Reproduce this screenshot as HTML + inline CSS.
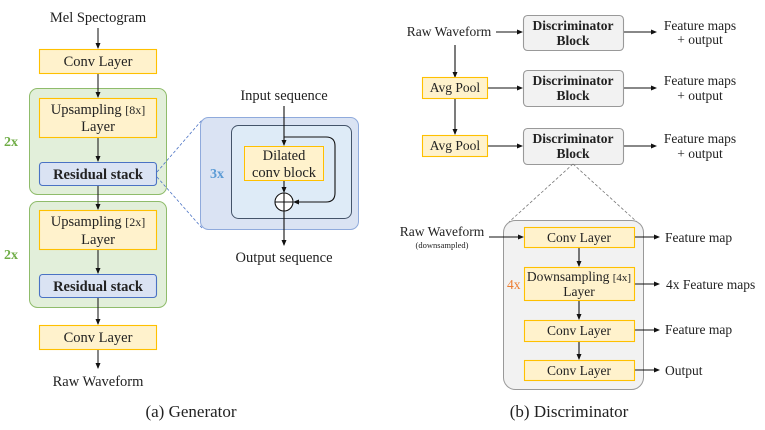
<!DOCTYPE html>
<html><head><meta charset="utf-8"><style>
html,body{margin:0;padding:0;background:#fff;}
svg{display:block;}
text{font-family:"Liberation Serif",serif;fill:#222;}
</style></head><body>
<svg width="765" height="430" viewBox="0 0 765 430" xmlns="http://www.w3.org/2000/svg">
<defs>
<marker id="a" markerWidth="6" markerHeight="6" refX="5" refY="3" orient="auto" markerUnits="userSpaceOnUse"><path d="M0,0.5 L6,3 L0,5.5 Z" fill="#111"/></marker>
</defs>
<g stroke="#222" stroke-width="1.1" fill="none">
<line x1="98" y1="28" x2="98" y2="48" marker-end="url(#a)"/>
<line x1="98" y1="349" x2="98" y2="368" marker-end="url(#a)"/>
</g>
<rect x="29.5" y="88.5" width="137" height="106" rx="8" fill="#e2efda" stroke="#8fbc6b"/>
<rect x="29.5" y="201.5" width="137" height="106" rx="8" fill="#e2efda" stroke="#8fbc6b"/>
<g stroke="#222" stroke-width="1.1"><line x1="98" y1="185" x2="98" y2="209" marker-end="url(#a)"/><line x1="98" y1="73" x2="98" y2="97" marker-end="url(#a)"/><line x1="98" y1="137" x2="98" y2="161" marker-end="url(#a)"/><line x1="98" y1="249" x2="98" y2="273" marker-end="url(#a)"/><line x1="98" y1="297" x2="98" y2="324" marker-end="url(#a)"/></g>
<g fill="#fff2cc" stroke="#ffc000" stroke-width="1.1">
<rect x="39.5" y="49.5" width="117" height="24"/>
<rect x="39.5" y="98.5" width="117" height="39"/>
<rect x="39.5" y="210.5" width="117" height="39"/>
<rect x="39.5" y="325.5" width="117" height="24"/>
</g>
<g fill="#dae3f3" stroke="#4a72c4" stroke-width="1.1">
<rect x="39.5" y="162.5" width="117" height="23" rx="3"/>
<rect x="39.5" y="274.5" width="117" height="23" rx="3"/>
</g>
<g font-size="14.5" text-anchor="middle">
<text x="98" y="22">Mel Spectogram</text>
<text x="98" y="66">Conv Layer</text>
<text x="98" y="114">Upsampling <tspan font-size="12">[8x]</tspan></text>
<text x="98" y="131">Layer</text>
<text x="98" y="179" font-weight="bold">Residual stack</text>
<text x="98" y="226">Upsampling <tspan font-size="12">[2x]</tspan></text>
<text x="98" y="244">Layer</text>
<text x="98" y="291" font-weight="bold">Residual stack</text>
<text x="98" y="342">Conv Layer</text>
<text x="98" y="386">Raw Waveform</text>
<text x="284" y="100">Input sequence</text>
<text x="284" y="262">Output sequence</text>
</g>
<text x="4" y="146" font-size="14" font-weight="bold" style="fill:#70ad47">2x</text>
<text x="4" y="259" font-size="14" font-weight="bold" style="fill:#70ad47">2x</text>
<text x="191" y="417" font-size="17" text-anchor="middle">(a) Generator</text>
<g stroke="#4a72c4" stroke-dasharray="3,2" stroke-width="0.8"><line x1="157" y1="172" x2="202" y2="120"/><line x1="157" y1="177" x2="202" y2="228"/></g>
<rect x="200.5" y="117.5" width="158" height="112" rx="8" fill="#dae3f3" stroke="#8faadc"/>
<rect x="231.5" y="125.5" width="120" height="93" rx="7" fill="#deebf7" stroke="#44546a"/>
<g stroke="#111" stroke-width="1.1" fill="none">
<line x1="284" y1="106" x2="284" y2="145" marker-end="url(#a)"/>
<path d="M284,137 H326 Q335,137 335,146 V193 Q335,202 326,202 H294" marker-end="url(#a)"/>
</g>
<rect x="244.5" y="146.5" width="79" height="34" fill="#fff2cc" stroke="#ffc000"/>
<text x="284" y="160" font-size="14.5" text-anchor="middle">Dilated</text>
<text x="284" y="177" font-size="14.5" text-anchor="middle">conv block</text>
<text x="210" y="178" font-size="14" font-weight="bold" style="fill:#5b9bd5">3x</text>
<g stroke="#111" stroke-width="1.1" fill="none">
<line x1="284" y1="181" x2="284" y2="192" marker-end="url(#a)"/>
<circle cx="284" cy="202" r="9" fill="#fff"/>
<line x1="275" y1="202" x2="293" y2="202"/><line x1="284" y1="193" x2="284" y2="211"/>
<line x1="284" y1="211" x2="284" y2="245" marker-end="url(#a)"/>
</g>
<g stroke="#111" stroke-width="1.1" fill="none">
<line x1="496" y1="32" x2="522" y2="32" marker-end="url(#a)"/>
<line x1="455" y1="45" x2="455" y2="77" marker-end="url(#a)"/>
<line x1="455" y1="98" x2="455" y2="134" marker-end="url(#a)"/>
<line x1="487" y1="88" x2="522" y2="88" marker-end="url(#a)"/>
<line x1="487" y1="146" x2="522" y2="146" marker-end="url(#a)"/>
<line x1="624" y1="32" x2="656" y2="32" marker-end="url(#a)"/>
<line x1="624" y1="88" x2="656" y2="88" marker-end="url(#a)"/>
<line x1="624" y1="146" x2="656" y2="146" marker-end="url(#a)"/>
</g>
<g fill="#f2f2f2" stroke="#999" stroke-width="1.1">
<rect x="523.5" y="15.5" width="100" height="35" rx="4"/>
<rect x="523.5" y="70.5" width="100" height="36" rx="4"/>
<rect x="523.5" y="128.5" width="100" height="36" rx="4"/>
</g>
<g fill="#fff2cc" stroke="#ffc000" stroke-width="1.1">
<rect x="422.5" y="77.5" width="65" height="21"/>
<rect x="422.5" y="135.5" width="65" height="21"/>
</g>
<g stroke="#777" stroke-dasharray="3,2" stroke-width="0.8"><line x1="573" y1="164" x2="509" y2="222"/><line x1="573" y1="164" x2="637" y2="222"/></g>
<rect x="503.5" y="220.5" width="140" height="169" rx="12" fill="#f2f2f2" stroke="#999"/>
<g stroke="#111" stroke-width="1.1" fill="none">
<line x1="489" y1="237" x2="523" y2="237" marker-end="url(#a)"/>
<line x1="579" y1="247" x2="579" y2="266" marker-end="url(#a)"/>
<line x1="579" y1="300" x2="579" y2="319" marker-end="url(#a)"/>
<line x1="579" y1="341" x2="579" y2="359" marker-end="url(#a)"/>
<line x1="635" y1="237" x2="659" y2="237" marker-end="url(#a)"/>
<line x1="635" y1="284" x2="659" y2="284" marker-end="url(#a)"/>
<line x1="635" y1="330" x2="659" y2="330" marker-end="url(#a)"/>
<line x1="635" y1="370" x2="659" y2="370" marker-end="url(#a)"/>
</g>
<g fill="#fff2cc" stroke="#ffc000" stroke-width="1.1">
<rect x="524.5" y="227.5" width="110" height="20"/>
<rect x="524.5" y="267.5" width="110" height="33"/>
<rect x="524.5" y="320.5" width="110" height="21"/>
<rect x="524.5" y="360.5" width="110" height="20"/>
</g>
<g font-size="13.5" text-anchor="middle">
<text x="449" y="36">Raw Waveform</text>
<text x="455" y="92">Avg Pool</text>
<text x="455" y="150">Avg Pool</text>
<text x="573" y="30" font-weight="bold">Discriminator</text>
<text x="573" y="45" font-weight="bold">Block</text>
<text x="573" y="85" font-weight="bold">Discriminator</text>
<text x="573" y="100" font-weight="bold">Block</text>
<text x="573" y="143" font-weight="bold">Discriminator</text>
<text x="573" y="158" font-weight="bold">Block</text>
<text x="700" y="30">Feature maps</text>
<text x="700" y="44">+ output</text>
<text x="700" y="85">Feature maps</text>
<text x="700" y="100">+ output</text>
<text x="700" y="143">Feature maps</text>
<text x="700" y="158">+ output</text>
<text x="442" y="236">Raw Waveform</text>
<text x="442" y="248" font-size="8.5">(downsampled)</text>
<text x="579" y="242">Conv Layer</text>
<text x="579" y="281">Downsampling <tspan font-size="11">[4x]</tspan></text>
<text x="579" y="296">Layer</text>
<text x="579" y="335">Conv Layer</text>
<text x="579" y="375">Conv Layer</text>
</g>
<g font-size="13.5">
<text x="665" y="242">Feature map</text>
<text x="666" y="289">4x Feature maps</text>
<text x="665" y="334">Feature map</text>
<text x="665" y="375">Output</text>
</g>
<text x="507" y="289" font-size="13.5" style="fill:#ed7d31">4x</text>
<text x="569" y="417" font-size="17" text-anchor="middle">(b) Discriminator</text>
</svg>
</body></html>
